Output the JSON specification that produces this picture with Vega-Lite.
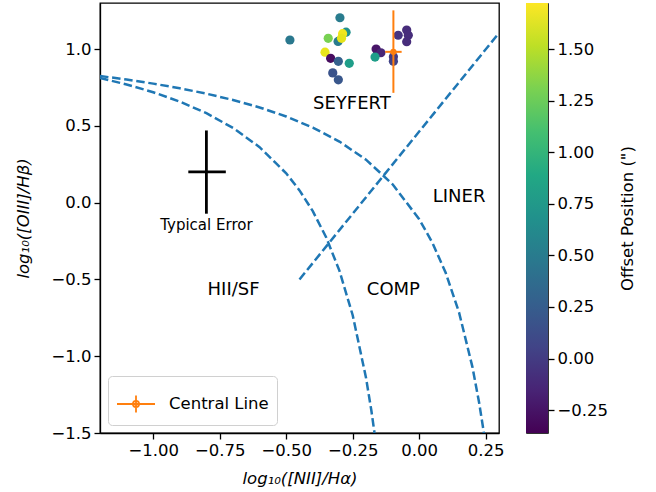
{
  "$schema": "https://vega.github.io/schema/vega-lite/v6.json",
  "padding": {"left": 15, "top": 2, "right": 5, "bottom": 5},
  "spacing": 20,
  "config": {
    "font": "DejaVu Sans",
    "view": {"stroke": "black", "strokeWidth": 1.3},
    "axis": {"grid": false, "domainColor": "black", "tickColor": "black", "labelColor": "black", "titleColor": "black", "labelFontSize": 16.5, "titleFontSize": 16.5, "titleFontWeight": "normal", "tickSize": 6, "tickWidth": 1.3, "domainWidth": 1.3, "labelPadding": 3}
  },
  "datasets": {
    "pts": [
      {"x": -0.486, "y": 1.059, "offset": 0.47},
      {"x": -0.298, "y": 1.204, "offset": 0.5},
      {"x": -0.275, "y": 1.11, "offset": 0.68},
      {"x": -0.305, "y": 1.05, "offset": 0.5},
      {"x": -0.342, "y": 1.07, "offset": 1.3},
      {"x": -0.288, "y": 1.1, "offset": 1.68},
      {"x": -0.292, "y": 1.07, "offset": 1.64},
      {"x": -0.354, "y": 0.98, "offset": 1.65},
      {"x": -0.333, "y": 0.94, "offset": -0.3},
      {"x": -0.304, "y": 0.92, "offset": 0.27},
      {"x": -0.263, "y": 0.907, "offset": 0.8},
      {"x": -0.325, "y": 0.845, "offset": 0.17},
      {"x": -0.304, "y": 0.8, "offset": 0.2},
      {"x": -0.162, "y": 1.0, "offset": -0.25},
      {"x": -0.144, "y": 0.976, "offset": -0.15},
      {"x": -0.166, "y": 0.948, "offset": 0.8},
      {"x": -0.097, "y": 0.92, "offset": 0.05},
      {"x": -0.097, "y": 0.95, "offset": 0.0},
      {"x": -0.079, "y": 1.09, "offset": -0.05},
      {"x": -0.047, "y": 1.124, "offset": -0.1},
      {"x": -0.041, "y": 1.09, "offset": -0.1},
      {"x": -0.047, "y": 1.048, "offset": -0.1}
    ],
    "central": [
      {"x": -0.097, "y": 0.982, "xlo": -0.128, "xhi": -0.066, "ylo": 0.715, "yhi": 1.252, "series": "Central Line"}
    ],
    "typerr": [
      {"x": -0.8, "y": 0.2, "xlo": -0.868, "xhi": -0.727, "ylo": -0.072, "yhi": 0.47}
    ],
    "curves": [
      {"model": "Kewley", "x": -1.2, "y": 0.8247},
      {"model": "Kewley", "x": -1.1, "y": 0.8015},
      {"model": "Kewley", "x": -1.0, "y": 0.775},
      {"model": "Kewley", "x": -0.9, "y": 0.7447},
      {"model": "Kewley", "x": -0.8, "y": 0.7097},
      {"model": "Kewley", "x": -0.7, "y": 0.6686},
      {"model": "Kewley", "x": -0.6, "y": 0.6199},
      {"model": "Kewley", "x": -0.5, "y": 0.5611},
      {"model": "Kewley", "x": -0.4, "y": 0.4889},
      {"model": "Kewley", "x": -0.3, "y": 0.3978},
      {"model": "Kewley", "x": -0.2, "y": 0.2796},
      {"model": "Kewley", "x": -0.1, "y": 0.1198},
      {"model": "Kewley", "x": 0.0, "y": -0.1079},
      {"model": "Kewley", "x": 0.05, "y": -0.2624},
      {"model": "Kewley", "x": 0.1, "y": -0.4586},
      {"model": "Kewley", "x": 0.15, "y": -0.7163},
      {"model": "Kewley", "x": 0.2, "y": -1.0693},
      {"model": "Kewley", "x": 0.225, "y": -1.2998},
      {"model": "Kewley", "x": 0.243, "y": -1.4972},
      {"model": "Kewley", "x": 0.245, "y": -1.5211},
      {"model": "Kauffmann", "x": -1.2, "y": 0.812},
      {"model": "Kauffmann", "x": -1.1, "y": 0.7696},
      {"model": "Kauffmann", "x": -1.0, "y": 0.719},
      {"model": "Kauffmann", "x": -0.9, "y": 0.6579},
      {"model": "Kauffmann", "x": -0.8, "y": 0.5824},
      {"model": "Kauffmann", "x": -0.7, "y": 0.4867},
      {"model": "Kauffmann", "x": -0.6, "y": 0.3615},
      {"model": "Kauffmann", "x": -0.5, "y": 0.1909},
      {"model": "Kauffmann", "x": -0.45, "y": 0.08},
      {"model": "Kauffmann", "x": -0.4, "y": -0.0556},
      {"model": "Kauffmann", "x": -0.35, "y": -0.225},
      {"model": "Kauffmann", "x": -0.3, "y": -0.4429},
      {"model": "Kauffmann", "x": -0.25, "y": -0.7333},
      {"model": "Kauffmann", "x": -0.2, "y": -1.14},
      {"model": "Kauffmann", "x": -0.18, "y": -1.3522},
      {"model": "Kauffmann", "x": -0.168, "y": -1.5},
      {"model": "LINER", "x": -0.45, "y": -0.5},
      {"model": "LINER", "x": 0.3, "y": 1.105}
    ],
    "regions": [
      {"x": -0.253, "y": 0.64, "text": "SEYFERT"},
      {"x": 0.15, "y": 0.035, "text": "LINER"},
      {"x": -0.698, "y": -0.566, "text": "HII/SF"},
      {"x": -0.097, "y": -0.566, "text": "COMP"}
    ],
    "notes": [
      {"x": -0.8, "y": -0.148, "text": "Typical Error"}
    ],
    "cbar": [
      {"lo": -0.361, "hi": 1.723}
    ]
  },
  "hconcat": [
    {
      "width": 399,
      "height": 430,
      "resolve": {"scale": {"color": "independent"}},
      "layer": [
        {
          "data": {"name": "curves"},
          "mark": {"type": "line", "color": "#1f77b4", "strokeWidth": 2.5, "strokeDash": [8.5, 3.7], "clip": true},
          "encoding": {
            "x": {"field": "x", "type": "quantitative", "scale": {"domain": [-1.2, 0.3], "nice": false, "zero": false}, "axis": {"values": [-1, -0.75, -0.5, -0.25, 0, 0.25], "format": ".2f", "title": "log₁₀([NII]/Hα)", "titleFontStyle": "italic", "titlePadding": 12}},
            "y": {"field": "y", "type": "quantitative", "scale": {"domain": [-1.5, 1.3], "nice": false, "zero": false}, "axis": {"values": [-1.5, -1, -0.5, 0, 0.5, 1], "format": ".1f", "title": "log₁₀([OIII]/Hβ)", "titleFontStyle": "italic", "titlePadding": 19}},
            "detail": {"field": "model"}
          }
        },
        {
          "data": {"name": "typerr"},
          "mark": {"type": "rule", "color": "black", "strokeWidth": 2.8},
          "encoding": {"x": {"field": "xlo", "type": "quantitative"}, "x2": {"field": "xhi"}, "y": {"field": "y", "type": "quantitative"}}
        },
        {
          "data": {"name": "typerr"},
          "mark": {"type": "rule", "color": "black", "strokeWidth": 2.8},
          "encoding": {"x": {"field": "x", "type": "quantitative"}, "y": {"field": "ylo", "type": "quantitative"}, "y2": {"field": "yhi"}}
        },
        {
          "data": {"name": "regions"},
          "mark": {"type": "text", "fontSize": 18, "color": "black", "baseline": "middle", "align": "center"},
          "encoding": {"x": {"field": "x", "type": "quantitative"}, "y": {"field": "y", "type": "quantitative"}, "text": {"field": "text"}}
        },
        {
          "data": {"name": "notes"},
          "mark": {"type": "text", "fontSize": 15, "color": "black", "baseline": "middle", "align": "center"},
          "encoding": {"x": {"field": "x", "type": "quantitative"}, "y": {"field": "y", "type": "quantitative"}, "text": {"field": "text"}}
        },
        {
          "data": {"name": "pts"},
          "mark": {"type": "circle", "size": 85, "opacity": 1},
          "encoding": {
            "x": {"field": "x", "type": "quantitative"},
            "y": {"field": "y", "type": "quantitative"},
            "color": {"field": "offset", "type": "quantitative", "scale": {"scheme": "viridis", "domain": [-0.361, 1.723], "nice": false, "zero": false}, "legend": null}
          }
        },
        {
          "data": {"name": "central"},
          "mark": {"type": "rule", "color": "#ff7f0e", "strokeWidth": 2},
          "encoding": {"x": {"field": "xlo", "type": "quantitative"}, "x2": {"field": "xhi"}, "y": {"field": "y", "type": "quantitative"}}
        },
        {
          "data": {"name": "central"},
          "mark": {"type": "rule", "color": "#ff7f0e", "strokeWidth": 2},
          "encoding": {"x": {"field": "x", "type": "quantitative"}, "y": {"field": "ylo", "type": "quantitative"}, "y2": {"field": "yhi"}}
        },
        {
          "data": {"name": "central"},
          "mark": {"type": "circle", "size": 40, "color": "#ff7f0e", "opacity": 1},
          "encoding": {
            "x": {"field": "x", "type": "quantitative"},
            "y": {"field": "y", "type": "quantitative"}
          }
        },
        {
          "data": {"name": "central"},
          "mark": {"type": "point", "filled": false, "size": 1444, "shape": "M-1,0H1M0,-0.45V0.45M-0.16,0A0.16,0.16 0 1,0 0.16,0A0.16,0.16 0 1,0 -0.16,0Z", "strokeWidth": 1.8, "opacity": 0},
          "encoding": {
            "x": {"field": "x", "type": "quantitative"},
            "y": {"field": "y", "type": "quantitative"},
            "color": {
              "field": "series", "type": "nominal",
              "scale": {"range": ["#ff7f0e"]},
              "legend": {"orient": "bottom-left", "offset": 8, "title": null, "fillColor": "white", "strokeColor": "#d0d0d0", "cornerRadius": 4, "padding": 8, "labelFontSize": 16.5, "labelColor": "black", "labelOffset": 13, "symbolType": "M-1,0H1M0,-0.45V0.45M-0.16,0A0.16,0.16 0 1,0 0.16,0A0.16,0.16 0 1,0 -0.16,0Z", "symbolSize": 1444, "symbolStrokeColor": "#ff7f0e", "symbolStrokeWidth": 1.8, "symbolFillColor": "#ff7f0e", "symbolOpacity": 1}
            }
          }
        }
      ]
    },
    {
      "width": 22,
      "height": 430,
      "view": {"stroke": "#333333", "strokeWidth": 1},
      "data": {"name": "cbar"},
      "mark": {"type": "rect", "color": {"gradient": "linear", "x1": 0, "y1": 1, "x2": 0, "y2": 0, "stops": [
        {"offset": 0.0, "color": "#440154"},
        {"offset": 0.1, "color": "#482475"},
        {"offset": 0.2, "color": "#414487"},
        {"offset": 0.3, "color": "#355f8d"},
        {"offset": 0.4, "color": "#2a788e"},
        {"offset": 0.5, "color": "#21918c"},
        {"offset": 0.6, "color": "#22a884"},
        {"offset": 0.7, "color": "#44bf70"},
        {"offset": 0.8, "color": "#7ad151"},
        {"offset": 0.9, "color": "#bddf26"},
        {"offset": 1.0, "color": "#fde725"}
      ]}},
      "encoding": {
        "y": {"field": "lo", "type": "quantitative", "scale": {"domain": [-0.361, 1.723], "nice": false, "zero": false}, "axis": {"orient": "right", "values": [-0.25, 0, 0.25, 0.5, 0.75, 1, 1.25, 1.5], "format": ".2f", "domain": false, "title": "Offset Position  (\")", "titleAngle": 270, "titleBaseline": "top", "titlePadding": 12}},
        "y2": {"field": "hi"}
      }
    }
  ]
}
